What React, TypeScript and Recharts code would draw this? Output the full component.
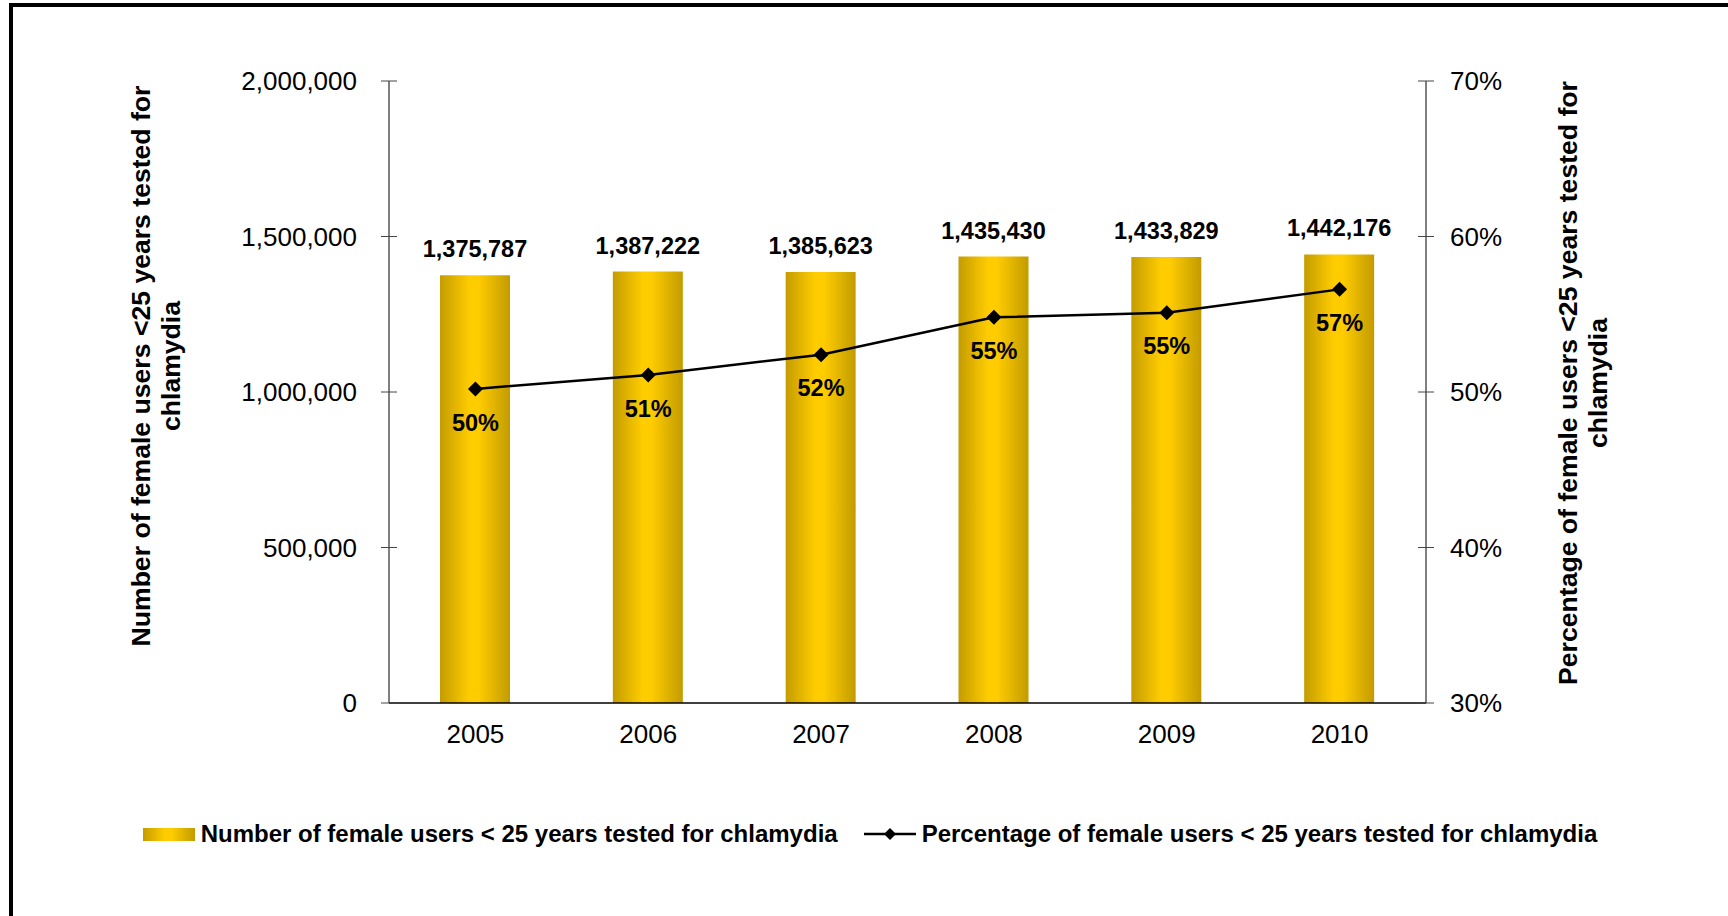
import { Bar, ComposedChart, LabelList, Legend, Line, XAxis, YAxis } from "recharts";

const years = ["2005", "2006", "2007", "2008", "2009", "2010"];
const usersTested = [1375787, 1387222, 1385623, 1435430, 1433829, 1442176];
const pctTested = [0.502, 0.511, 0.524, 0.548, 0.551, 0.566];
const countTicks = [0, 500000, 1000000, 1500000, 2000000];
const pctTicks = [0.3, 0.4, 0.5, 0.6, 0.7];

const BAR_NAME = "Number of female users < 25 years tested for chlamydia";
const LINE_NAME = "Percentage of female users < 25 years tested for chlamydia";

const FONT = '"Liberation Sans", Arial, sans-serif';
const GOLD_CSS = "linear-gradient(to right, #c49c00 0%, #ffcc00 42%, #ffcc00 55%, #c29b00 100%)";

const data = years.map((year, i) => ({
  year,
  users: usersTested[i],
  pct: pctTested[i],
}));

const fmtCount = (v: number) => Number(v).toLocaleString("en-US");
const fmtPct = (v: number) => `${Math.round(Number(v) * 100)}%`;

function LeftTick({ x, y, payload }: any) {
  return (
    <g>
      <line x1={x + 24} x2={x + 40} y1={y} y2={y} stroke="#444" />
      <text x={x} y={y} dy="0.36em" textAnchor="end" fontSize={26} fill="#000">
        {fmtCount(payload.value)}
      </text>
    </g>
  );
}

function RightTick({ x, y, payload }: any) {
  return (
    <g>
      <line x1={x - 32} x2={x - 16} y1={y} y2={y} stroke="#444" />
      <text x={x} y={y} dy="0.36em" textAnchor="start" fontSize={26} fill="#000">
        {fmtPct(payload.value)}
      </text>
    </g>
  );
}

function Diamond({ cx, cy, index }: any) {
  const r = 7.5;
  return (
    <path
      key={`d-${index}`}
      d={`M${cx},${cy - r}L${cx + r},${cy}L${cx},${cy + r}L${cx - r},${cy}Z`}
      fill="#000"
    />
  );
}

function AxisTitle({ cx, cy, lines }: { cx: number; cy: number; lines: string[] }) {
  return (
    <text
      transform={`rotate(-90 ${cx} ${cy})`}
      x={cx}
      y={cy}
      textAnchor="middle"
      dominantBaseline="central"
      fontSize={26.6}
      fontWeight="bold"
      fill="#000"
    >
      <tspan x={cx} dy={-15}>
        {lines[0]}
      </tspan>
      <tspan x={cx} dy={30}>
        {lines[1]}
      </tspan>
    </text>
  );
}

function LegendRow() {
  return (
    <div
      style={{
        display: "flex",
        justifyContent: "center",
        alignItems: "center",
        paddingLeft: 12,
        fontFamily: FONT,
        fontWeight: "bold",
        fontSize: 24,
        color: "#000",
        whiteSpace: "nowrap",
      }}
    >
      <div style={{ width: 52, height: 13, background: GOLD_CSS }} />
      <span style={{ marginLeft: 6 }}>{BAR_NAME}</span>
      <svg width={52} height={16} style={{ marginLeft: 26 }}>
        <line x1={0} x2={52} y1={8} y2={8} stroke="#000" strokeWidth={2.5} />
        <path d="M26,2L32,8L26,14L20,8Z" fill="#000" />
      </svg>
      <span style={{ marginLeft: 6 }}>{LINE_NAME}</span>
    </div>
  );
}

export default function App() {
  return (
    <div style={{ position: "fixed", inset: 0, background: "#fff", overflow: "hidden" }}>
      <div
        style={{
          position: "absolute",
          left: 9,
          top: 3,
          right: -20,
          bottom: -20,
          borderLeft: "4px solid #000",
          borderTop: "4px solid #000",
        }}
      />
      <div style={{ position: "absolute", left: 0, top: 0, fontFamily: FONT }}>
        <ComposedChart
          width={1728}
          height={916}
          data={data}
          margin={{ top: 81, right: 0, bottom: 153, left: 0 }}
          barCategoryGap="30%"
          style={{ fontFamily: FONT }}
        >
          <defs>
            <linearGradient id="goldBar" x1="0" y1="0" x2="1" y2="0">
              <stop offset="0%" stopColor="#c49c00" />
              <stop offset="42%" stopColor="#ffcc00" />
              <stop offset="55%" stopColor="#ffcc00" />
              <stop offset="100%" stopColor="#c29b00" />
            </linearGradient>
          </defs>
          <XAxis
            dataKey="year"
            height={60}
            tickLine={false}
            tickSize={0}
            tickMargin={22}
            axisLine={{ stroke: "#000", strokeWidth: 1.5 }}
            tick={{ fontSize: 26, fill: "#000" }}
          />
          <YAxis
            yAxisId="left"
            orientation="left"
            width={389}
            domain={[0, 2000000]}
            ticks={countTicks}
            interval={0}
            tickSize={8}
            tickMargin={24}
            tickLine={false}
            axisLine={{ stroke: "#000" }}
            tick={<LeftTick />}
            label={{
              content: () => (
                <AxisTitle
                  cx={156}
                  cy={366}
                  lines={["Number of female users <25 years tested for", "chlamydia"]}
                />
              ),
            }}
          />
          <YAxis
            yAxisId="right"
            orientation="right"
            width={302}
            domain={[0.3, 0.7]}
            ticks={pctTicks}
            interval={0}
            tickSize={8}
            tickMargin={16}
            tickLine={false}
            axisLine={{ stroke: "#000" }}
            tick={<RightTick />}
            label={{
              content: () => (
                <AxisTitle
                  cx={1583}
                  cy={383}
                  lines={["Percentage of female users <25 years tested for", "chlamydia"]}
                />
              ),
            }}
          />
          <Legend
            layout="horizontal"
            verticalAlign="middle"
            align="center"
            wrapperStyle={{ top: 820, left: 0, width: 1728 }}
            content={() => <LegendRow />}
          />
          <Bar
            yAxisId="left"
            dataKey="users"
            name={BAR_NAME}
            barSize={70}
            fill="url(#goldBar)"
            isAnimationActive={false}
          >
            <LabelList
              dataKey="users"
              position="top"
              offset={18}
              formatter={(v: any) => fmtCount(v)}
              fill="#000"
              fontSize={23.5}
              fontWeight="bold"
            />
          </Bar>
          <Line
            yAxisId="right"
            dataKey="pct"
            name={LINE_NAME}
            type="linear"
            stroke="#000"
            strokeWidth={2.5}
            dot={(p: any) => <Diamond {...p} />}
            activeDot={false}
            isAnimationActive={false}
          >
            <LabelList
              dataKey="pct"
              position="bottom"
              offset={25}
              formatter={(v: any) => fmtPct(v)}
              fill="#000"
              fontSize={23.5}
              fontWeight="bold"
            />
          </Line>
        </ComposedChart>
      </div>
    </div>
  );
}
